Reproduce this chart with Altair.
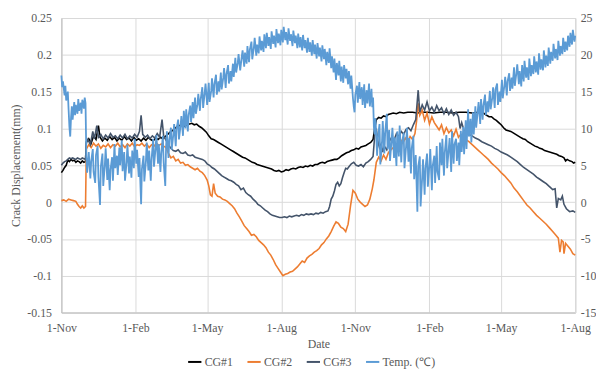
import altair as alt
import pandas as pd
from datetime import date, timedelta

START = date(2016, 11, 1)

series_names = ["CG#1", "CG#2", "CG#3", "Temp. (℃)"]
series_colors = ["#000000", "#ED7D31", "#44546A", "#5B9BD5"]

x_tick_dates = [(2016, 11, 1), (2017, 2, 1), (2017, 5, 1), (2017, 8, 1),
                (2017, 11, 1), (2018, 2, 1), (2018, 5, 1), (2018, 8, 1)]
left_ticks = [-0.15, -0.1, -0.05, 0, 0.05, 0.1, 0.15, 0.2, 0.25]
right_ticks = [-15, -10, -5, 0, 5, 10, 15, 20, 25]

# (day offset from 1-Nov-2016, crack displacement mm)
cg1 = [(0,0.040),(2,0.043),(4,0.047),(6,0.050),(8,0.057),(10,0.055),(12,0.058),(14,0.056),(16,0.057),(18,0.054),(20,0.056),(22,0.055),(24,0.053),(26,0.056),(28,0.054),(30,0.055),
(31,0.082),(34,0.086),(37,0.080),(40,0.090),(43,0.085),(46,0.104),(48,0.088),(51,0.083),(54,0.087),(57,0.084),(60,0.089),(63,0.085),(66,0.088),(69,0.083),(72,0.087),(75,0.084),(78,0.089),(81,0.085),(84,0.087),(87,0.083),(90,0.088),(93,0.084),(96,0.086),(99,0.083),(102,0.087),(105,0.084),(108,0.088),(111,0.085),(114,0.083),(117,0.087),(120,0.085),(123,0.088),(126,0.086),(129,0.089),(132,0.092),(135,0.095),(138,0.097),(141,0.100),(144,0.103),(147,0.104),(150,0.106),(153,0.103),(156,0.105),(159,0.106),(162,0.107),(165,0.105),(168,0.106),(171,0.103),(174,0.101),(177,0.098),(180,0.095),(183,0.090),(186,0.086),(189,0.085),(192,0.083),(195,0.081),(198,0.079),(201,0.077),(204,0.075),(207,0.073),(210,0.071),(213,0.069),(216,0.067),(219,0.065),(222,0.063),(225,0.061),(228,0.060),(231,0.058),(234,0.056),(237,0.054),(240,0.053),(243,0.051),(246,0.050),(249,0.049),(252,0.048),(255,0.047),(258,0.046),(261,0.045),(264,0.043),(267,0.042),(270,0.043),(273,0.041),(276,0.042),(279,0.044),(282,0.043),(285,0.045),(288,0.046),(291,0.045),(294,0.047),(297,0.048),(300,0.047),(303,0.049),(306,0.048),(309,0.050),(312,0.049),(315,0.051),(318,0.051),(321,0.053),(324,0.054),(327,0.053),(330,0.055),(333,0.056),(336,0.057),(339,0.058),(342,0.058),(345,0.060),(348,0.063),(351,0.065),(354,0.067),(357,0.068),(360,0.070),(363,0.071),(366,0.073),(369,0.072),(372,0.075),(375,0.076),(378,0.077),(381,0.079),(384,0.081),(387,0.085),(389,0.100),(391,0.112),(394,0.115),(397,0.114),(400,0.117),(403,0.116),(406,0.119),(409,0.120),(412,0.121),(416,0.120),(420,0.122),(425,0.121),(430,0.122),(436,0.122),(442,0.121),(448,0.122),(455,0.122),(462,0.121),(470,0.122),(478,0.122),(486,0.121),(494,0.122),(502,0.122),(510,0.121),(518,0.122),(524,0.121),(528,0.118),(531,0.116),(534,0.116),(537,0.113),(540,0.111),(543,0.108),(546,0.105),(549,0.101),(552,0.098),(555,0.097),(558,0.096),(561,0.094),(564,0.092),(567,0.090),(570,0.088),(573,0.086),(576,0.085),(579,0.082),(582,0.080),(585,0.078),(588,0.076),(591,0.075),(594,0.073),(597,0.072),(600,0.070),(603,0.069),(606,0.068),(609,0.067),(612,0.066),(615,0.065),(618,0.063),(621,0.062),(624,0.060),(626,0.056),(628,0.058),(631,0.056),(634,0.055),(636,0.053),(638,0.054)]

cg2 = [(0,0.002),(3,0.003),(6,0.001),(9,0.004),(12,0.003),(15,0.002),(18,0.001),(20,-0.003),(22,-0.006),(24,-0.008),(26,-0.005),(28,-0.008),(30,-0.006),
(31,0.072),(34,0.078),(37,0.074),(40,0.080),(43,0.076),(46,0.079),(49,0.073),(52,0.077),(55,0.075),(58,0.079),(61,0.074),(64,0.078),(67,0.076),(70,0.080),(73,0.075),(76,0.078),(79,0.074),(82,0.079),(85,0.076),(88,0.080),(91,0.075),(94,0.078),(97,0.077),(100,0.080),(103,0.076),(106,0.079),(109,0.074),(112,0.078),(115,0.076),(118,0.080),(121,0.077),(124,0.079),(127,0.076),(130,0.074),(133,0.066),(136,0.060),(139,0.062),(142,0.056),(145,0.058),(148,0.053),(151,0.054),(154,0.050),(157,0.051),(160,0.048),(163,0.046),(166,0.044),(169,0.046),(172,0.042),(175,0.040),(178,0.036),(181,0.030),(183,0.022),(185,0.010),(187,0.008),(189,0.025),(191,0.012),(194,0.008),(197,0.007),(200,0.004),(203,0.003),(206,0.001),(209,-0.002),(212,-0.005),(215,-0.009),(218,-0.015),(221,-0.020),(224,-0.026),(227,-0.032),(230,-0.036),(233,-0.040),(236,-0.045),(239,-0.044),(242,-0.047),(245,-0.052),(248,-0.055),(251,-0.058),(254,-0.062),(257,-0.068),(260,-0.072),(263,-0.078),(266,-0.085),(269,-0.090),(272,-0.095),(275,-0.100),(278,-0.098),(281,-0.097),(284,-0.095),(287,-0.094),(290,-0.091),(293,-0.088),(296,-0.084),(299,-0.080),(302,-0.082),(305,-0.076),(308,-0.073),(311,-0.071),(314,-0.068),(317,-0.066),(320,-0.063),(323,-0.058),(326,-0.055),(329,-0.050),(332,-0.046),(335,-0.040),(338,-0.033),(341,-0.027),(344,-0.029),(347,-0.034),(350,-0.036),(353,-0.040),(356,-0.030),(359,-0.005),(362,0.016),(365,0.012),(368,0.004),(371,0.000),(374,-0.003),(377,-0.006),(380,-0.004),(383,0.004),(386,0.018),(388,0.030),(391,0.054),(394,0.061),(397,0.056),(400,0.064),(403,0.058),(406,0.067),(409,0.071),(412,0.074),(415,0.072),(418,0.080),(421,0.085),(424,0.080),(427,0.087),(430,0.082),(433,0.089),(436,0.085),(439,0.093),(441,0.110),(443,0.134),(445,0.118),(448,0.125),(451,0.111),(454,0.121),(457,0.106),(460,0.116),(463,0.108),(466,0.103),(469,0.098),(472,0.105),(475,0.093),(478,0.101),(481,0.094),(484,0.098),(487,0.090),(490,0.099),(493,0.088),(496,0.092),(499,0.086),(502,0.085),(506,0.082),(510,0.078),(514,0.074),(518,0.070),(521,0.067),(524,0.064),(527,0.061),(530,0.058),(534,0.053),(538,0.049),(542,0.045),(546,0.040),(550,0.036),(554,0.031),(558,0.026),(562,0.019),(566,0.014),(570,0.008),(574,0.002),(578,-0.004),(582,-0.008),(586,-0.013),(590,-0.018),(594,-0.022),(598,-0.026),(602,-0.030),(606,-0.035),(610,-0.040),(614,-0.045),(617,-0.049),(619,-0.068),(621,-0.052),(623,-0.054),(624,-0.070),(626,-0.056),(629,-0.060),(632,-0.064),(635,-0.070),(638,-0.072)]

cg3 = [(0,0.050),(2,0.053),(4,0.055),(6,0.056),(8,0.058),(10,0.060),(12,0.059),(14,0.060),(16,0.059),(18,0.058),(20,0.060),(22,0.059),(24,0.058),(26,0.060),(28,0.059),(30,0.058),
(31,0.080),(33,0.085),(36,0.078),(39,0.096),(41,0.086),(44,0.104),(46,0.088),(49,0.092),(52,0.086),(55,0.091),(58,0.087),(61,0.093),(64,0.088),(67,0.090),(70,0.086),(73,0.091),(76,0.087),(79,0.092),(82,0.086),(85,0.090),(88,0.087),(91,0.092),(94,0.088),(97,0.096),(99,0.118),(101,0.092),(104,0.088),(107,0.091),(110,0.086),(113,0.090),(116,0.087),(119,0.093),(122,0.088),(125,0.112),(127,0.090),(130,0.084),(133,0.078),(136,0.073),(139,0.070),(142,0.069),(145,0.071),(148,0.067),(151,0.066),(154,0.068),(157,0.064),(160,0.063),(163,0.064),(166,0.061),(169,0.060),(172,0.059),(175,0.058),(178,0.056),(181,0.052),(184,0.050),(187,0.047),(190,0.045),(193,0.042),(196,0.039),(199,0.036),(202,0.034),(205,0.032),(208,0.030),(211,0.029),(214,0.027),(217,0.024),(220,0.022),(223,0.017),(226,0.019),(229,0.013),(232,0.010),(235,0.008),(238,0.004),(241,0.001),(244,-0.003),(247,-0.005),(250,-0.008),(253,-0.011),(256,-0.013),(259,-0.016),(262,-0.018),(265,-0.019),(268,-0.020),(271,-0.021),(274,-0.021),(277,-0.020),(280,-0.021),(283,-0.019),(286,-0.020),(289,-0.019),(292,-0.018),(295,-0.019),(298,-0.017),(301,-0.018),(304,-0.016),(307,-0.017),(310,-0.016),(313,-0.017),(316,-0.015),(319,-0.016),(322,-0.014),(325,-0.015),(328,-0.013),(331,-0.012),(333,-0.006),(335,0.004),(337,0.008),(339,0.015),(341,0.024),(343,0.027),(345,0.022),(347,0.025),(349,0.033),(351,0.040),(353,0.046),(355,0.045),(357,0.048),(360,0.052),(363,0.054),(366,0.050),(369,0.049),(372,0.051),(375,0.048),(378,0.053),(381,0.055),(384,0.058),(387,0.062),(389,0.090),(391,0.100),(393,0.082),(395,0.074),(397,0.079),(399,0.068),(401,0.076),(404,0.071),(407,0.082),(410,0.088),(413,0.084),(416,0.093),(419,0.089),(422,0.096),(425,0.092),(428,0.099),(431,0.101),(434,0.097),(437,0.105),(440,0.112),(443,0.152),(445,0.122),(448,0.132),(451,0.125),(454,0.136),(457,0.124),(460,0.129),(463,0.122),(466,0.131),(469,0.124),(472,0.128),(475,0.120),(478,0.127),(481,0.119),(484,0.125),(487,0.118),(490,0.122),(493,0.116),(495,0.100),(497,0.108),(500,0.097),(503,0.094),(506,0.092),(510,0.090),(514,0.087),(518,0.085),(522,0.082),(526,0.080),(530,0.078),(534,0.076),(538,0.073),(542,0.071),(546,0.068),(550,0.066),(554,0.064),(558,0.061),(562,0.058),(566,0.055),(570,0.051),(574,0.047),(578,0.044),(582,0.041),(586,0.038),(590,0.034),(594,0.031),(598,0.028),(602,0.025),(606,0.021),(610,0.017),(613,0.018),(615,-0.008),(617,0.005),(620,0.003),(622,0.008),(624,-0.003),(627,-0.009),(631,-0.013),(635,-0.012),(638,-0.014)]

# (day offset, temperature degC) - readings
temp = [(0,17.2),(1,15.6),(2,16.4),(4,14.5),(5,15.8),(6,13.8),(8,15.0),(9,12.5),(10,10.2),(11,8.9),(12,11.5),(13,13.0),(14,11.2),(16,13.6),(17,11.8),(18,13.2),(20,12.0),(21,14.0),(22,12.4),(24,13.5),(25,12.0),(26,13.9),(28,12.7),(29,14.2),(30,13.4),
(31,6.2),(32,4.0),(34,6.8),(36,3.2),(37,5.5),(39,7.2),(40,4.1),(42,2.6),(43,6.4),(45,7.6),(46,3.4),(48,-0.4),(49,4.8),(51,6.6),(52,2.2),(54,5.1),(55,7.3),(57,3.0),(58,5.9),(60,1.6),(61,4.4),(63,6.1),(64,2.9),(66,7.9),(67,4.6),(69,6.3),(70,3.7),(72,7.4),(73,5.0),(75,8.4),(76,4.2),(78,6.8),(79,2.9),(81,5.5),(82,7.8),(84,3.9),(85,6.2),(87,3.3),(88,7.0),(90,4.6),(91,8.6),(93,5.2),(94,7.1),(96,3.4),(97,6.0),(99,-0.3),(100,4.5),(102,6.3),(103,2.8),(105,5.6),(106,8.1),(108,4.3),(109,7.0),(111,2.9),(112,5.8),(114,8.6),(115,4.8),(117,7.4),(118,9.1),(120,5.2),(121,7.9),(123,4.1),(124,6.6),(126,9.0),(127,5.4),(129,2.2),
(130,7.5),(131,9.6),(133,6.0),(134,8.4),(136,10.1),(137,7.1),(139,9.2),(140,10.6),(142,7.6),(143,9.9),(145,11.2),(146,8.5),(148,10.4),(149,11.7),(151,9.0),(152,12.4),(154,10.0),(155,12.6),(157,9.6),(158,11.8),(160,13.1),(161,10.9),(163,13.6),(164,11.4),(166,14.2),(167,12.0),(169,13.3),(170,14.7),(172,12.4),(173,14.0),(175,15.6),(176,12.8),(178,14.9),(179,16.1),(181,13.2),
(183,16.2),(184,13.6),(186,15.1),(187,16.8),(189,14.2),(190,16.0),(192,17.3),(193,14.6),(195,16.4),(196,15.0),(198,17.6),(199,15.3),(201,16.9),(202,18.2),(204,15.5),(205,17.4),(207,18.6),(208,16.1),(210,17.8),(211,16.4),(213,18.8),(214,17.0),(216,19.6),(217,17.6),(219,18.9),(220,20.1),(222,17.9),(224,19.8),(225,20.6),(227,18.4),(228,20.3),(230,18.8),(231,21.2),(233,19.0),(234,20.7),(236,21.8),(237,19.4),(239,21.0),(240,22.3),(242,19.9),(243,21.4),(245,20.2),(246,22.5),(248,20.6),(249,21.9),(251,20.4),(252,22.8),(254,20.9),(255,23.0),(257,21.2),(258,22.4),(260,20.8),(261,23.2),(263,21.5),(264,22.6),(266,21.0),(267,23.5),(269,21.6),(270,22.9),(272,21.3),(273,23.4),(275,21.7),(276,23.8),(278,22.0),(279,23.1),(281,21.4),(282,23.6),(284,21.9),(285,22.8),(287,21.2),(288,23.3),(290,21.6),(291,22.6),(293,20.9),(294,22.9),(296,21.0),(297,22.4),(299,20.6),(300,22.7),(302,20.9),(303,22.0),(305,20.3),(306,22.3),(308,20.4),(309,21.7),(311,19.9),(312,22.0),(314,20.1),(315,21.4),(317,19.5),(318,21.6),(320,19.8),(321,21.0),(323,19.1),(324,21.3),(326,19.4),(327,20.8),(329,18.6),(330,20.4),(332,18.9),(333,20.9),(335,18.2),(336,19.8),(338,17.6),(339,19.5),(341,16.6),(342,18.9),(344,17.2),(345,19.2),(347,16.4),(348,18.4),(350,16.2),(351,18.6),(353,16.8),(354,18.1),(356,16.0),(357,17.8),(359,15.4),(360,17.2),(362,14.1),(363,13.0),(364,12.2),(365,14.6),(367,15.8),(368,13.5),(370,16.3),(371,14.0),(373,15.6),(374,13.2),(376,16.0),(377,12.8),(379,15.2),(380,13.4),(382,16.1),(383,13.0),(385,15.4),(386,12.9),(387,14.2),(388,10.2),
(389,9.2),(390,11.4),(392,6.3),(393,8.8),(395,10.6),(396,5.1),(398,7.9),(399,11.0),(401,6.6),(402,9.3),(404,12.0),(405,7.2),(407,9.8),(408,5.6),(410,8.4),(411,10.1),(413,6.0),(414,8.8),(416,4.9),(417,9.6),(419,6.2),(420,10.4),(422,5.4),(423,8.1),(425,9.4),(426,4.6),(428,7.6),(429,10.1),(431,5.5),(432,8.7),(434,3.9),(435,7.3),(437,9.0),(438,3.1),(440,6.4),(441,2.6),(442,-1.3),(443,4.8),(445,6.2),(446,-0.6),(448,3.4),(449,5.8),(451,1.0),(452,4.6),(454,6.6),(455,2.1),(457,5.2),(458,7.2),(460,1.6),(461,4.9),(463,6.3),(464,2.6),(466,7.6),(467,4.1),(469,3.0),(470,8.1),(472,5.0),(473,8.6),(475,3.6),(476,6.7),(478,9.1),(479,4.6),(481,7.3),(482,8.7),(484,4.1),(485,9.6),(487,5.2),(488,7.8),(490,8.6),
(491,5.6),(493,8.1),(494,5.0),(496,9.7),(497,6.8),(499,10.2),(500,6.5),(502,11.1),(503,7.2),(505,12.6),(506,8.9),(508,11.3),(509,8.1),(511,12.2),(512,9.2),(514,13.0),(515,10.1),(517,12.4),(518,13.6),(520,10.6),(521,14.0),(523,11.2),(524,13.1),(526,14.6),(527,11.8),(529,13.7),(530,12.2),(532,15.1),(533,12.6),(535,14.2),(536,15.6),(538,12.8),(539,15.3),(541,16.1),(542,13.2),(544,15.0),(545,13.6),
(547,16.6),(548,14.1),(550,15.8),(551,17.0),(553,14.5),(554,16.4),(556,17.5),(557,15.1),(559,16.9),(560,15.4),(562,18.3),(563,15.8),(565,17.6),(566,18.7),(568,16.0),(569,17.8),(571,15.7),(572,18.6),(574,16.4),(575,19.2),(577,16.9),(578,18.3),(580,16.6),(581,19.5),(583,17.1),(584,18.6),(586,17.4),(587,19.8),(589,17.6),(590,19.1),(592,17.3),(593,20.2),(595,18.0),(596,19.4),(598,17.9),(599,20.6),(601,18.3),(602,19.9),(604,18.5),(605,21.0),(607,18.8),(608,20.4),(610,19.2),(611,21.5),(613,19.5),(614,20.8),(616,19.3),(617,21.9),(619,19.9),(620,21.2),(622,20.1),(623,22.3),(625,20.4),(626,21.8),(628,20.6),(629,22.6),(631,21.1),(632,23.0),(634,21.4),(635,23.4),(637,21.8),(638,22.6)]


def to_frame(points, name):
    return pd.DataFrame({
        "date": [(START + timedelta(days=d)).strftime("%Y-%m-%dT00:00:00") for d, _ in points],
        "value": [v for _, v in points],
        "series": name,
    })


cg_df = pd.concat([to_frame(cg1, series_names[0]), to_frame(cg2, series_names[1]),
                   to_frame(cg3, series_names[2])], ignore_index=True)
temp_df = to_frame(temp, series_names[3])

FONT = "Liberation Serif"
TXT = "#595959"
GRID = "#D9D9D9"

x_dates = [alt.DateTime(year=y, month=m, date=d) for y, m, d in x_tick_dates]

x_enc = alt.X(
    "date:T",
    scale=alt.Scale(domain=[x_dates[0], x_dates[-1]], nice=False),
    axis=alt.Axis(values=x_dates, format="%-d-%b", title="Date", labelFlush=False,
                  labelOverlap=False, grid=True, gridColor=GRID, domainColor="#BFBFBF",
                  tickSize=0, labelPadding=10, titlePadding=5),
)

color_enc = alt.Color(
    "series:N",
    scale=alt.Scale(domain=series_names, range=series_colors),
    legend=alt.Legend(orient="none", direction="horizontal", legendX=127, legendY=340,
                      title=None, symbolType="stroke", symbolStrokeWidth=2, symbolSize=180,
                      labelFont=FONT, labelFontSize=12, labelColor=TXT, labelOffset=2,
                      columnPadding=10),
)

left = alt.Chart(cg_df).mark_line(strokeWidth=1.6).encode(
    x=x_enc,
    y=alt.Y("value:Q",
            scale=alt.Scale(domain=[-0.15, 0.25], nice=False, zero=False),
            axis=alt.Axis(values=left_ticks, labelExpr="'' + datum.value",
                          title="Crack Displacement(mm)", grid=True, gridColor=GRID,
                          domainColor="#BFBFBF", tickSize=0, labelPadding=10, titlePadding=4)),
    color=color_enc,
)

right = alt.Chart(temp_df).mark_line(strokeWidth=1.8).encode(
    x=x_enc,
    y=alt.Y("value:Q",
            scale=alt.Scale(domain=[-15, 25], nice=False, zero=False),
            axis=alt.Axis(values=right_ticks, labelExpr="'' + datum.value", orient="right",
                          title=None, grid=False, domainColor=GRID, tickSize=0, labelPadding=5)),
    color=color_enc,
)

chart = (
    alt.layer(left, right)
    .resolve_scale(y="independent")
    .properties(width=520, height=298, padding={"left": 2, "top": 2, "right": 0, "bottom": 0})
    .configure_view(stroke=GRID)
    .configure_axis(labelFont=FONT, labelFontSize=12, labelColor=TXT,
                    titleFont=FONT, titleFontSize=12, titleColor=TXT, titleFontWeight="normal")
)

chart.save("out.html", embed_options={"renderer": "svg", "actions": False})
